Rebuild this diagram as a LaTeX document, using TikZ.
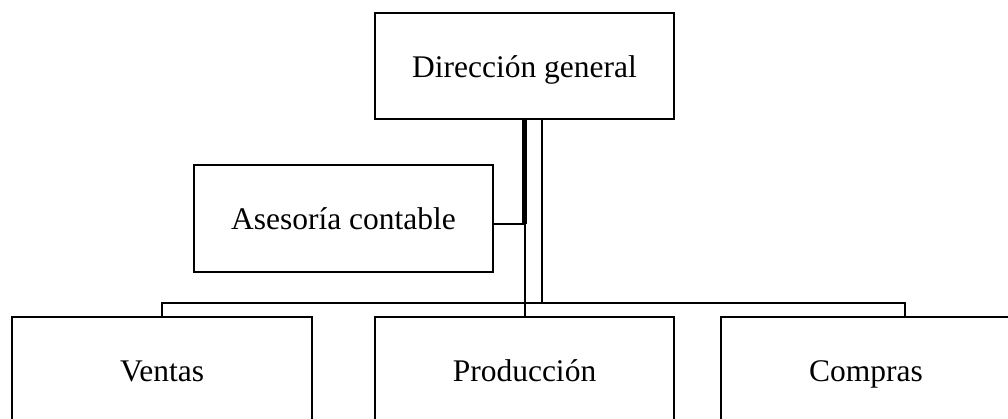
\documentclass[tikz,border=0pt]{standalone}
\usepackage{fontspec}
\setmainfont{Liberation Serif}
\begin{document}
\begin{tikzpicture}[x=1pt,y=-1pt,
  box/.style={draw, line width=2.6pt, inner sep=0pt, text height=22pt, text depth=0pt,
    font=\fontsize{31.5}{36}\selectfont},
  conn/.style={line width=2pt},
  thickconn/.style={line width=4.5pt}]
\useasboundingbox (0,0) rectangle (1008,418);
\node[box, minimum width=299pt, minimum height=106pt] (dg) at (524.5,66) {Dirección general};
\node[box, minimum width=299pt, minimum height=107pt] (as) at (343.5,218.5) {Asesoría contable};
\node[box, minimum width=300pt, minimum height=106pt] (ve) at (162,370) {Ventas};
\node[box, minimum width=299pt, minimum height=106pt] (pr) at (524.5,370) {Producción};
\node[box, minimum width=290pt, minimum height=106pt] (co) at (866,370) {Compras};
\coordinate (j) at (525,224);
\coordinate (k) at (542,303);
\coordinate (c) at (905,303);
\draw[conn] (dg.south) -- (pr.north);
\draw[thickconn] (dg.south) -- (dg.south |- j);
\draw[conn] (as.east |- j) -- (j);
\draw[conn] (dg.south -| k) -- (k);
\draw[conn] (ve.north) -- (ve.north |- k) -- (c) -- (c |- co.north);
\end{tikzpicture}
\end{document}
